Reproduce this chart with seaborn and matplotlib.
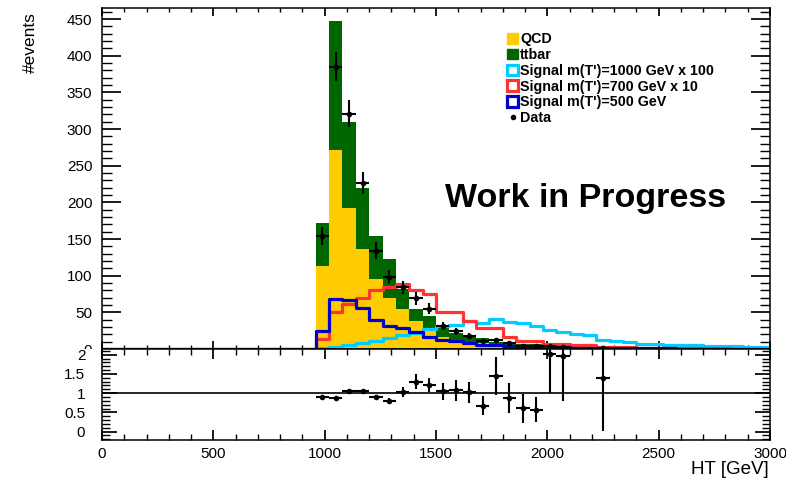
import numpy as np
import pandas as pd
import matplotlib
matplotlib.use("Agg")
import matplotlib.pyplot as plt
import seaborn as sns
from matplotlib.patches import Patch, Rectangle
from matplotlib.lines import Line2D
from matplotlib.ticker import MultipleLocator, FuncFormatter

sns.set_theme(style="ticks")
plt.rcParams["font.family"] = ["Liberation Sans", "DejaVu Sans"]
plt.rcParams["text.color"] = "black"
plt.rcParams["axes.labelcolor"] = "black"

# 60 GeV bins from 0 to 3000 GeV; the selection leaves everything below 960 GeV empty
edges = np.arange(0, 3001, 60)
first_filled = 16  # bin 960-1020 GeV

qcd = [113, 272, 192, 136, 96, 70, 54, 38, 25, 17, 12, 10, 8, 5, 5, 4, 4,
       1.2, 1.0, 0.8, 0.6, 0.4, 0.35, 0.3, 0.25, 0.2, 0.2, 0.15, 0.12, 0.1,
       0.1, 0.08, 0.06, 0.05]
ttbar = [59, 175, 118, 84, 58, 53, 28, 16, 20, 13, 10, 7, 7, 4, 4, 3, 2.5,
         0.8, 0.8, 0.6, 0.5, 0.35, 0.3, 0.25, 0.2, 0.15, 0.12, 0.1, 0.08,
         0.06, 0.05, 0.04, 0.03, 0.02]
sig1000_x100 = [2, 3, 5, 8, 11, 15, 19, 22, 27, 31, 33, 38, 35, 41, 37, 36, 32,
                26, 23, 21, 19, 12, 11, 9, 6.5, 6.5, 5.5, 5, 5, 4, 4, 3.5, 3, 3]
sig700_x10 = [14, 50, 62, 70, 80, 85, 88, 80, 75, 50, 50, 38, 29, 29, 16, 11,
              11, 7, 7, 5, 5, 3, 3, 2.5, 2, 1.8, 1.5, 1.2, 1.0, 0.9, 0.8, 0.6,
              0.5, 0.4]
sig500 = [25, 68, 67, 56, 40, 32, 29, 23, 16, 12, 11, 8, 6, 5, 4, 3, 2.5, 2.4,
          2.2, 2.0, 1.8, 1.6, 1.4, 1.2, 1.0, 0.9, 0.8, 0.7, 0.6, 0.5, 0.4, 0.35,
          0.3, 0.25]
data = [154, 385, 321, 226, 134, 98, 84, 69, 55, 31, 24, 18, 11, 12, 8, 4, 4,
        4, 3, 0, 0, 1, 0, 0, 0, 0, 0, 0, 0, 0, 0, 0, 0, 0]

# data / MC in the bins that contain data
ratio_ht = [990, 1050, 1110, 1170, 1230, 1290, 1350, 1410, 1470, 1530, 1590,
            1650, 1710, 1770, 1830, 1890, 1950, 2010, 2070, 2250]
ratio = [0.91, 0.87, 1.045, 1.045, 0.89, 0.80, 1.02, 1.30, 1.21, 1.045, 1.07,
         1.02, 0.67, 1.45, 0.87, 0.61, 0.57, 2.03, 1.96, 1.39]
ratio_err = [0.05, 0.03, 0.04, 0.04, 0.06, 0.07, 0.13, 0.19, 0.18, 0.22, 0.27,
             0.28, 0.25, 0.49, 0.39, 0.38, 0.33, 1.03, 1.16, 1.38]

n_bins = len(edges) - 1
centers = 0.5 * (edges[:-1] + edges[1:])
bin_list = edges.tolist()


def full(values):
    arr = np.zeros(n_bins)
    arr[first_filled:first_filled + len(values)] = values
    return arr


qcd_h = full(qcd)
tt_h = full(ttbar)
c_qcd = "#FFCC00"
c_tt = "#006600"
c_s1000 = "#00CCFF"
c_s700 = "#FF3333"
c_s500 = "#0000CC"

fig = plt.figure(figsize=(7.86, 4.88), dpi=100)
ax = fig.add_axes([0.1298, 0.2848, 0.8498, 0.6988])
axr = fig.add_axes([0.1298, 0.0984, 0.8498, 0.1864])
axr.set_zorder(2)

bkg = pd.DataFrame({"HT": centers, "total": qcd_h + tt_h, "qcd": qcd_h})
sns.histplot(data=bkg, x="HT", weights="total", bins=bin_list, element="step",
             fill=True, color=c_tt, alpha=1, linewidth=0, ax=ax)
sns.histplot(data=bkg, x="HT", weights="qcd", bins=bin_list, element="step",
             fill=True, color=c_qcd, alpha=1, linewidth=0, ax=ax)

for vals, col in [(sig1000_x100, c_s1000), (sig700_x10, c_s700), (sig500, c_s500)]:
    sig = pd.DataFrame({"HT": centers, "w": full(vals)})
    sns.histplot(data=sig, x="HT", weights="w", bins=bin_list, element="step",
                 fill=False, color=col, linewidth=2.3, ax=ax)

d = full(data)
mask = d > 0
ax.errorbar(centers[mask], d[mask], yerr=np.sqrt(d[mask]), xerr=30,
            fmt="o", ms=3, color="black", lw=1.5, capsize=0, zorder=5)

ax.set_xlim(0, 3000)
ax.set_ylim(0, 465)
ax.set_xlabel("")
ax.set_ylabel("")
ax.xaxis.set_major_locator(MultipleLocator(500))
ax.xaxis.set_minor_locator(MultipleLocator(100))
ax.yaxis.set_major_locator(MultipleLocator(50))
ax.yaxis.set_minor_locator(MultipleLocator(10))
ax.tick_params(which="both", direction="in", top=True, right=True,
               labelbottom=False, colors="black", labelsize=11)
ax.tick_params(axis="y", which="major", length=14, pad=7)
ax.tick_params(axis="y", which="minor", length=7)
ax.tick_params(axis="x", which="major", length=6)
ax.tick_params(axis="x", which="minor", length=3)

ax.text(1540, 193, "Work in Progress", fontsize=24.5, fontweight="bold",
        ha="left", va="baseline", color="black")

handles = [
    Patch(facecolor=c_qcd, edgecolor=c_qcd, label="QCD"),
    Patch(facecolor=c_tt, edgecolor=c_tt, label="ttbar"),
    Patch(facecolor="white", edgecolor=c_s1000, linewidth=2.3,
          label="Signal m(T')=1000 GeV x 100"),
    Patch(facecolor="white", edgecolor=c_s700, linewidth=2.3,
          label="Signal m(T')=700 GeV x 10"),
    Patch(facecolor="white", edgecolor=c_s500, linewidth=2.3,
          label="Signal m(T')=500 GeV"),
    Line2D([], [], marker="o", ms=3, color="black", linestyle="none",
           label="Data"),
]
leg = ax.legend(handles=handles, loc="upper left", bbox_to_anchor=(0.598, 0.945),
                frameon=False, prop={"weight": "bold", "size": 10.3},
                handlelength=0.75, handleheight=0.75, handletextpad=0.15,
                labelspacing=0.12, borderaxespad=0)
for t in leg.get_texts():
    t.set_color("black")

# ratio panel
axr.errorbar(ratio_ht, ratio, yerr=ratio_err, xerr=30, fmt="o", ms=3,
             color="black", lw=1.5, capsize=0, zorder=5)
axr.axhline(1, color="black", lw=1.2)
axr.set_xlim(0, 3000)
axr.set_ylim(-0.22, 2.15)
axr.xaxis.set_major_locator(MultipleLocator(500))
axr.xaxis.set_minor_locator(MultipleLocator(100))
axr.yaxis.set_major_locator(MultipleLocator(0.5))
axr.yaxis.set_minor_locator(MultipleLocator(0.1))
axr.yaxis.set_major_formatter(FuncFormatter(lambda v, p: f"{v:g}"))
axr.tick_params(which="both", direction="in", top=True, right=True,
                colors="black", labelsize=11)
axr.tick_params(axis="y", which="major", length=11, pad=12)
axr.tick_params(axis="y", which="minor", length=6)
axr.tick_params(axis="x", which="major", length=7, pad=5)
axr.tick_params(axis="x", which="minor", length=4)

for a in (ax, axr):
    for s in a.spines.values():
        s.set_linewidth(1.1)
        s.set_color("black")

# the lower pad sits on top of the upper one and hides the lower half of its "0"
fig.patches.append(Rectangle((40 / 786, 1 - 366 / 488), 60 / 786, 17 / 488,
                             transform=fig.transFigure, facecolor="white",
                             edgecolor="none", zorder=1))

fig.text(30 / 786, 1 - 12 / 488, "#events", rotation=90, ha="center",
         va="top", fontsize=12.5, color="black")
fig.text(769 / 786, 1 - 470 / 488, "HT [GeV]", ha="right", va="center",
         fontsize=13.5, color="black")

fig.savefig("out.png", dpi=100)
